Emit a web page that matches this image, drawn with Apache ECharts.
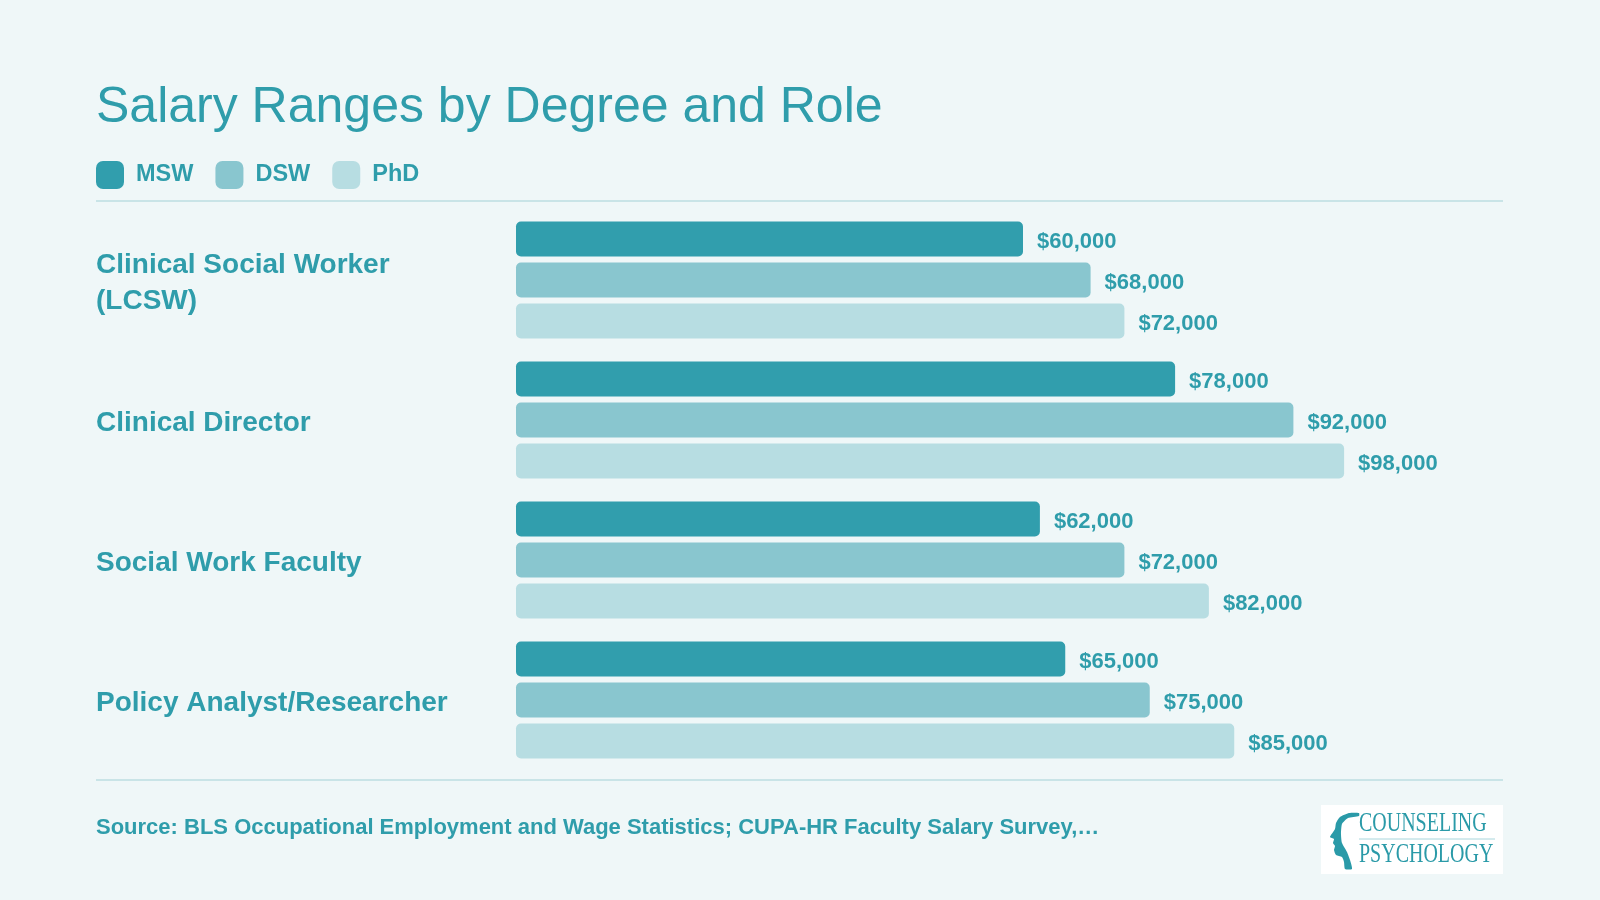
<!DOCTYPE html>
<html>
<head>
<meta charset="utf-8">
<script src="https://cdn.jsdelivr.net/npm/echarts@6/dist/echarts.min.js"></script>
<style>
  html, body { margin: 0; padding: 0; background: #eff7f8; }
  #main { width: 1600px; height: 900px; }
</style>
</head>
<body>
<div id="main"></div>
<script>
const roles = ['Clinical Social Worker (LCSW)', 'Clinical Director', 'Social Work Faculty', 'Policy Analyst/Researcher']
const degrees = ['MSW', 'DSW', 'PhD']
const msw = [60000, 78000, 62000, 65000]
const dsw = [68000, 92000, 72000, 75000]
const phd = [72000, 98000, 82000, 85000]
const sourceNote = 'Source: BLS Occupational Employment and Wage Statistics; CUPA-HR Faculty Salary Survey,…'

const FONT = 'Helvetica, Arial, "Liberation Sans", sans-serif'
const SERIF = '"Liberation Serif", "DejaVu Serif", serif'
const TEAL = '#2f9dab'
const colors = ['#319ead', '#89c6cf', '#b7dde2']

const money = v => '$' + v.value.toLocaleString('en-US')

// rough head profile for the logo
const headOutline = [[32, 3], [22, 3], [13, 7], [9, 13], [8, 19], [3, 27], [7, 29], [6, 33], [8, 36], [7, 40],
  [9, 45], [15, 47], [17, 52], [18, 59], [25, 59], [23, 50], [20, 42], [15, 33], [14, 24], [15, 14], [21, 8], [32, 6]]

const chart = echarts.init(document.getElementById('main'))

const makeSeries = (name, data, i) => ({
  name: name,
  type: 'bar',
  data: data,
  barWidth: 35,
  barGap: '17%',
  itemStyle: { color: colors[i], borderRadius: 5 },
  label: {
    show: true,
    position: 'right',
    distance: 14,
    offset: [0, 3],
    formatter: money,
    color: TEAL,
    fontFamily: FONT,
    fontWeight: 'bold',
    fontSize: 22
  }
})

chart.setOption({
  backgroundColor: '#eff7f8',
  animation: false,
  title: {
    text: 'Salary Ranges by Degree and Role',
    left: 96,
    top: 83,
    padding: 0,
    textStyle: { color: TEAL, fontFamily: FONT, fontWeight: 'normal', fontSize: 50 }
  },
  legend: {
    left: 96,
    top: 161,
    padding: 0,
    itemWidth: 28,
    itemHeight: 28,
    itemGap: 22,
    icon: 'roundRect',
    data: degrees,
    textStyle: {
      color: TEAL, fontFamily: FONT, fontWeight: 'bold', fontSize: 23.5,
      padding: [0, 0, 0, 7]
    }
  },
  grid: { left: 516, top: 210, width: 845, height: 560 },
  xAxis: {
    type: 'value',
    min: 0,
    max: 100000,
    show: false
  },
  yAxis: {
    type: 'category',
    data: roles,
    inverse: true,
    axisLine: { show: false },
    axisTick: { show: false },
    axisLabel: {
      margin: 420,
      align: 'left',
      width: 370,
      overflow: 'break',
      formatter: v => '{r|' + v + '}',
      rich: {
        r: {
          padding: [6, 0, 0, 0],
          lineHeight: 36,
          color: TEAL,
          fontFamily: FONT,
          fontWeight: 'bold',
          fontSize: 28
        }
      },
      lineHeight: 36,
      color: TEAL,
      fontFamily: FONT,
      fontWeight: 'bold',
      fontSize: 28
    }
  },
  series: [
    makeSeries(degrees[0], msw, 0),
    makeSeries(degrees[1], dsw, 1),
    makeSeries(degrees[2], phd, 2)
  ],
  graphic: [
    { type: 'line', shape: { x1: 96, y1: 201, x2: 1503, y2: 201 }, style: { stroke: '#c9e4e7', lineWidth: 2 } },
    { type: 'line', shape: { x1: 96, y1: 780, x2: 1503, y2: 780 }, style: { stroke: '#c9e4e7', lineWidth: 2 } },
    {
      type: 'text', left: 96, top: 817,
      style: { text: sourceNote, fill: TEAL, font: 'bold 22px ' + FONT }
    },
    {
      type: 'group', left: 1321, top: 805,
      children: [
        { type: 'rect', shape: { x: 0, y: 0, width: 182, height: 69 }, style: { fill: '#ffffff' } },
        {
          type: 'polygon', x: 6, y: 5,
          shape: { points: headOutline, smooth: 0.2 },
          style: { fill: '#2a9aa8' }
        },
        {
          type: 'text', x: 38, y: 5, scaleX: 0.74,
          style: { text: 'COUNSELING', fill: '#2a9aa8', font: '27px ' + SERIF }
        },
        { type: 'line', shape: { x1: 38, y1: 34, x2: 174, y2: 34 }, style: { stroke: '#a9d6dc', lineWidth: 1 } },
        {
          type: 'text', x: 38, y: 36, scaleX: 0.74,
          style: { text: 'PSYCHOLOGY', fill: '#2a9aa8', font: '27px ' + SERIF }
        }
      ]
    }
  ]
})
</script>
</body>
</html>
